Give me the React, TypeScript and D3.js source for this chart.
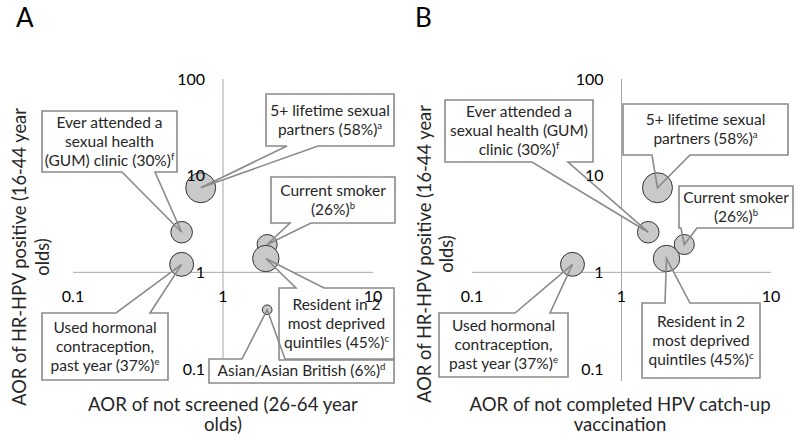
import React from "react";
import * as d3 from "d3";

// ---------- DATA ----------
const factors = [
  "5+ lifetime sexual partners",
  "Current smoker",
  "Resident in 2 most deprived quintiles",
  "Asian/Asian British",
  "Used hormonal contraception, past year",
  "Ever attended a sexual health (GUM) clinic",
];
const prevalence = [58, 26, 45, 6, 37, 30];
const footnotes = ["a", "b", "c", "d", "e", "f"];
const aorHrHpv = [7.5, 1.94, 1.39, 0.41, 1.21, 2.6];
const aorNotScreened = [0.71, 1.97, 1.93, 1.97, 0.53, 0.53];
const aorNotVaccinated: (number | null)[] = [1.74, 2.63, 2.0, null, 0.47, 1.51];
const xTicks = [0.1, 1, 10];
const yTicks = [0.1, 1, 10, 100];

// ---------- LAYOUT ----------
type Callout = {
  idx: number;
  box: [number, number, number, number];
  edge: "top" | "bottom";
  base: [number, number];
  lines: string[];
};

const panels = [
  {
    letter: "A",
    xVals: aorNotScreened,
    xRange: [73, 373],
    xTitle: ["AOR of not screened (26-64 year", "olds)"],
    xTitleX: 223,
    yTitleX: [20, 43],
    yTitleY: 257,
    callouts: [
      { idx: 0, box: [266, 94, 394, 146], edge: "bottom", base: [287, 318], lines: ["5+ lifetime sexual", "partners"] },
      { idx: 1, box: [271, 177, 395, 223], edge: "bottom", base: [290, 311], lines: ["Current smoker", ""] },
      { idx: 2, box: [279, 288, 394, 360], edge: "top", base: [296, 324], lines: ["Resident in 2", "most deprived", "quintiles"] },
      { idx: 3, box: [209, 359, 394, 383], edge: "top", base: [242, 285], lines: ["Asian/Asian British"] },
      { idx: 4, box: [42, 313, 168, 380], edge: "top", base: [116, 150], lines: ["Used hormonal", "contraception,", "past year"] },
      { idx: 5, box: [42, 111, 177, 172], edge: "bottom", base: [122, 155], lines: ["Ever attended a", "sexual health", "(GUM) clinic"] },
    ] as Callout[],
  },
  {
    letter: "B",
    xVals: aorNotVaccinated,
    xRange: [472, 771],
    xTitle: ["AOR of not completed HPV catch-up", "vaccination"],
    xTitleX: 620,
    yTitleX: [425, 447],
    yTitleY: 254,
    callouts: [
      { idx: 0, box: [623, 104, 788, 155], edge: "bottom", base: [652, 690], lines: ["5+ lifetime sexual", "partners"] },
      { idx: 1, box: [679, 186, 793, 228], edge: "bottom", base: [681, 697], lines: ["Current smoker", ""] },
      { idx: 2, box: [642, 303, 760, 378], edge: "top", base: [665, 690], lines: ["Resident in 2", "most deprived", "quintiles"] },
      { idx: 4, box: [439, 313, 568, 377], edge: "top", base: [515, 550], lines: ["Used hormonal", "contraception,", "past year"] },
      { idx: 5, box: [445, 100, 593, 162], edge: "bottom", base: [532, 568], lines: ["Ever attended a", "sexual health (GUM)", "clinic"] },
    ] as Callout[],
  },
];

const FONT = "Lato, 'Open Sans', sans-serif";
const TEXT = "#262626";
const BOX_STROKE = "#8a8a8a";
const AXIS = "#a6a6a6";
const BUBBLE_FILL = "#c9c9c9";
const BUBBLE_STROKE = "#333333";

const yScale = d3.scaleLog().domain([0.1, 100]).range([369, 79]);
const rScale = d3.scaleSqrt().domain([0, 58]).range([0, 15]);

function calloutPath(c: Callout, tx: number, ty: number) {
  const [x0, y0, x1, y1] = c.box;
  const [b0, b1] = c.base;
  const p = d3.path();
  if (c.edge === "bottom") {
    p.moveTo(x0, y0);
    p.lineTo(x1, y0);
    p.lineTo(x1, y1);
    p.lineTo(b1, y1);
    p.lineTo(tx, ty);
    p.lineTo(b0, y1);
    p.lineTo(x0, y1);
    p.closePath();
  } else {
    p.moveTo(x0, y0);
    p.lineTo(b0, y0);
    p.lineTo(tx, ty);
    p.lineTo(b1, y0);
    p.lineTo(x1, y0);
    p.lineTo(x1, y1);
    p.lineTo(x0, y1);
    p.closePath();
  }
  return p.toString();
}

function Panel({ panel }: { panel: (typeof panels)[number] }) {
  const xScale = d3.scaleLog().domain([0.1, 10]).range(panel.xRange as [number, number]);
  const x1 = xScale(1);
  const y1 = yScale(1);
  const pts = factors
    .map((f, i) => ({ i, xv: panel.xVals[i], yv: aorHrHpv[i], pct: prevalence[i] }))
    .filter((d) => d.xv != null) as { i: number; xv: number; yv: number; pct: number }[];
  const lineH = 19;
  const fs = 15.5;

  return (
    <g>
      <text x={xScale(0.1) - 57} y={27} fontSize={26} fill="#000" fontFamily={FONT}>
        {panel.letter}
      </text>
      {/* axes */}
      <line x1={xScale(0.1)} x2={xScale(10)} y1={y1} y2={y1} stroke={AXIS} strokeWidth={1} />
      <line x1={x1} x2={x1} y1={yScale(100)} y2={yScale(0.1) + 12} stroke={AXIS} strokeWidth={1} />

      {/* callout fills */}
      {panel.callouts.map((c) => (
        <path
          key={"f" + c.idx}
          d={calloutPath(c, xScale(panel.xVals[c.idx] as number), yScale(aorHrHpv[c.idx]))}
          fill="#fff"
          stroke="none"
        />
      ))}
      {/* bubbles */}
      {pts.map((d) => (
        <circle
          key={"c" + d.i}
          cx={xScale(d.xv)}
          cy={yScale(d.yv)}
          r={rScale(d.pct)}
          fill={BUBBLE_FILL}
          stroke={BUBBLE_STROKE}
          strokeWidth={1}
        />
      ))}
      {/* callout outlines */}
      {panel.callouts.map((c) => (
        <path
          key={"o" + c.idx}
          d={calloutPath(c, xScale(panel.xVals[c.idx] as number), yScale(aorHrHpv[c.idx]))}
          fill="none"
          stroke={BOX_STROKE}
          strokeWidth={1.6}
          strokeLinejoin="miter"
        />
      ))}
      {/* callout text */}
      {panel.callouts.map((c) => {
        const [bx0, by0, bx1, by1] = c.box;
        const cx = (bx0 + bx1) / 2;
        const cy = (by0 + by1) / 2;
        const n = c.lines.length;
        return (
          <text key={"t" + c.idx} fontFamily={FONT} fontSize={fs} fill={TEXT} textAnchor="middle">
            {c.lines.map((ln, k) => {
              const last = k === n - 1;
              const y = cy + (k - (n - 1) / 2) * lineH + fs * 0.35;
              return (
                <tspan key={k} x={cx} y={y}>
                  {ln}
                  {last ? (ln ? " " : "") + `(${prevalence[c.idx]}%)` : ""}
                  {last ? (
                    <tspan fontSize={fs * 0.62} dy={-fs * 0.4}>
                      {footnotes[c.idx]}
                    </tspan>
                  ) : null}
                </tspan>
              );
            })}
          </text>
        );
      })}
      {/* tick labels */}
      {xTicks.map((t) => (
        <text
          key={"x" + t}
          x={xScale(t)}
          y={y1 + 24}
          dy="0.35em"
          textAnchor="middle"
          fontFamily={FONT}
          fontSize={16}
          fill="#000"
        >
          {t}
        </text>
      ))}
      {yTicks.map((t) => (
        <text
          key={"y" + t}
          x={x1 - 18}
          y={yScale(t)}
          dy="0.35em"
          textAnchor="end"
          fontFamily={FONT}
          fontSize={16}
          fill="#000"
        >
          {t}
        </text>
      ))}
      {/* axis titles */}
      {panel.xTitle.map((t, k) => (
        <text
          key={"xt" + k}
          x={panel.xTitleX}
          y={404 + k * 20}
          dy="0.35em"
          textAnchor="middle"
          fontFamily={FONT}
          fontSize={18.6}
          fill={TEXT}
        >
          {t}
        </text>
      ))}
      {["AOR of HR-HPV positive (16-44 year", "olds)"].map((t, k) => (
        <text
          key={"yt" + k}
          transform={`translate(${panel.yTitleX[k]},${panel.yTitleY}) rotate(-90)`}
          dy="0.35em"
          textAnchor="middle"
          fontFamily={FONT}
          fontSize={18.3}
          fill={TEXT}
        >
          {t}
        </text>
      ))}
    </g>
  );
}

export default function App() {
  return (
    <svg
      width={800}
      height={443}
      viewBox="0 0 800 443"
      style={{ position: "absolute", left: 0, top: 0, background: "#fff" }}
    >
      <rect width={800} height={443} fill="#fff" />
      {panels.map((p) => (
        <Panel key={p.letter} panel={p} />
      ))}
    </svg>
  );
}
